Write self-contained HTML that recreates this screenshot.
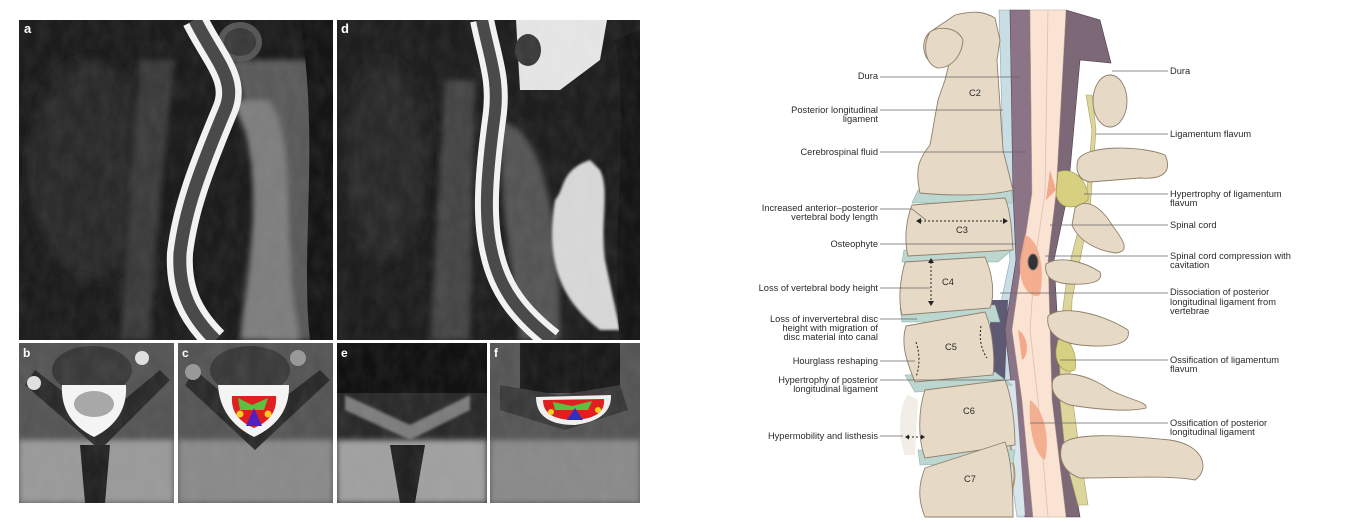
<!DOCTYPE html>
<html><head><meta charset="utf-8"><style>
html,body{margin:0;padding:0;background:#fff;}
svg{display:block;}
text{font-family:"Liberation Sans",sans-serif;font-size:9.3px;fill:#2a2a2a;}
</style></head><body>
<svg width="1354" height="522" viewBox="0 0 1354 522" xmlns="http://www.w3.org/2000/svg">
<defs>
<filter id="bl" x="-20%" y="-20%" width="140%" height="140%"><feGaussianBlur stdDeviation="3"/></filter>
<filter id="bl1"><feGaussianBlur stdDeviation="1.2"/></filter>
<filter id="bl6" x="-30%" y="-30%" width="160%" height="160%"><feGaussianBlur stdDeviation="6"/></filter>
<filter id="noise" x="0" y="0" width="100%" height="100%">
<feTurbulence type="fractalNoise" baseFrequency="0.08 0.05" numOctaves="3" seed="4"/>
<feColorMatrix type="matrix" values="0 0 0 0 0.5  0 0 0 0 0.5  0 0 0 0 0.5  1.2 0 0 0 -0.35"/>
</filter>
<clipPath id="ca"><rect x="19" y="20" width="314" height="320"/></clipPath>
<clipPath id="cd"><rect x="337" y="20" width="303" height="320"/></clipPath>
<clipPath id="cb"><rect x="19" y="343" width="155" height="160"/></clipPath>
<clipPath id="cc"><rect x="178" y="343" width="155" height="160"/></clipPath>
<clipPath id="ce"><rect x="337" y="343" width="150" height="160"/></clipPath>
<clipPath id="cf"><rect x="490" y="343" width="150" height="160"/></clipPath>
</defs>

<!-- Panel a -->
<g clip-path="url(#ca)">
<rect x="19" y="20" width="314" height="320" fill="#1c1c1c"/>
<ellipse cx="90" cy="170" rx="60" ry="110" fill="#2c2c2c" filter="url(#bl6)"/>
<path d="M140 60 L175 60 L160 200 L150 340 L120 340 L130 200Z" fill="#3a3a3a" filter="url(#bl)"/>
<path d="M230 60 C260 120 250 220 270 340 L333 340 L333 60 Z" fill="#5a5a5a" filter="url(#bl)"/>
<path d="M228 100 C270 150 250 250 240 340 L300 340 C280 250 300 150 270 100Z" fill="#7e7e7e" filter="url(#bl)"/>
<path d="M300 20 L333 20 L333 340 L310 340 C300 250 320 140 300 20Z" fill="#151515"/>
<ellipse cx="240" cy="42" rx="22" ry="20" fill="#555"/>
<ellipse cx="240" cy="42" rx="16" ry="14" fill="#3a3a3a"/>
<rect x="19" y="20" width="314" height="320" filter="url(#noise)" opacity="0.12"/>
<path d="M195 20 C215 60 238 80 225 110 C200 170 185 210 180 253 C178 290 190 315 215 340" fill="none" stroke="#f2f2f2" stroke-width="26"/>
<path d="M195 20 C215 60 238 80 225 110 C200 170 185 210 180 253 C178 290 190 315 215 340" fill="none" stroke="#4a4a4a" stroke-width="13"/>
<text x="24" y="33" style="font-size:13px;font-weight:bold;fill:#fff">a</text>
</g>
<!-- Panel d -->
<g clip-path="url(#cd)">
<rect x="337" y="20" width="303" height="320" fill="#1e1e1e"/>
<ellipse cx="385" cy="160" rx="40" ry="100" fill="#2a2a2a" filter="url(#bl6)"/>
<path d="M445 80 L475 80 L470 340 L430 340Z" fill="#444" filter="url(#bl)"/>
<path d="M500 120 C540 130 560 200 560 340 L520 340 C510 250 500 200 500 120Z" fill="#555" filter="url(#bl)"/>
<path d="M516 20 L607 20 L600 60 L560 90 L520 90Z" fill="#e6e6e6"/>
<ellipse cx="528" cy="50" rx="13" ry="16" fill="#3a3a3a"/>
<path d="M590 160 C560 170 565 190 555 200 C545 260 560 300 600 330 L620 330 L605 260 C600 220 610 190 600 170Z" fill="#d8d8d8" filter="url(#bl1)"/>
<path d="M615 40 L640 30 L640 340 L620 340 C610 250 630 120 615 40Z" fill="#151515"/>
<rect x="337" y="20" width="303" height="320" filter="url(#noise)" opacity="0.12"/>
<path d="M482 20 C490 60 500 80 494 120 C486 180 484 220 492 253 C500 290 520 315 552 340" fill="none" stroke="#f2f2f2" stroke-width="24"/>
<path d="M482 20 C490 60 500 80 494 120 C486 180 484 220 492 253 C500 290 520 315 552 340" fill="none" stroke="#4a4a4a" stroke-width="12"/>
<text x="341" y="33" style="font-size:13px;font-weight:bold;fill:#fff">d</text>
</g>
<!-- Panel b -->
<g clip-path="url(#cb)">
<rect x="19" y="343" width="155" height="160" fill="#555"/>
<rect x="19" y="440" width="155" height="63" fill="#9a9a9a" filter="url(#bl)"/>
<ellipse cx="92" cy="370" rx="40" ry="24" fill="#3a3a3a"/>
<path d="M35 370 L100 420 L160 370 L170 380 L100 450 L25 385Z" fill="#2a2a2a"/>
<path d="M80 445 L110 445 L105 503 L85 503Z" fill="#222"/>
<rect x="19" y="343" width="155" height="160" filter="url(#noise)" opacity="0.12"/>
<path d="M62 385 L126 385 Q128 420 94 437 Q60 420 62 385Z" fill="#f4f4f4"/>
<ellipse cx="94" cy="404" rx="20" ry="13" fill="#a8a8a8"/>
<circle cx="34" cy="383" r="7" fill="#e0e0e0"/><circle cx="142" cy="358" r="7" fill="#e0e0e0"/>
<text x="23" y="357" style="font-size:12px;font-weight:bold;fill:#fff">b</text>
</g>
<!-- Panel c -->
<g clip-path="url(#cc)">
<rect x="178" y="343" width="155" height="160" fill="#555"/>
<rect x="178" y="440" width="155" height="63" fill="#8a8a8a" filter="url(#bl)"/>
<ellipse cx="250" cy="370" rx="40" ry="24" fill="#3a3a3a"/>
<path d="M195 370 L255 420 L320 370 L330 380 L255 450 L185 385Z" fill="#2a2a2a"/>
<rect x="178" y="343" width="155" height="160" filter="url(#noise)" opacity="0.12"/>
<path d="M218 385 L289 385 Q290 420 254 437 Q220 420 218 385Z" fill="#f4f4f4"/>
<path d="M232 396 L276 396 Q278 418 254 428 Q230 418 232 396Z" fill="#e02020"/>
<path d="M238 398 L252 405 L268 398 L264 410 L252 410 L240 410Z" fill="#5cc040"/>
<path d="M254 408 L262 426 L246 426Z" fill="#5020c0"/>
<circle cx="240" cy="414" r="3.5" fill="#f0d020"/><circle cx="268" cy="414" r="3.5" fill="#f0d020"/>
<circle cx="193" cy="372" r="8" fill="#999"/><circle cx="298" cy="358" r="8" fill="#999"/>
<text x="182" y="357" style="font-size:12px;font-weight:bold;fill:#fff">c</text>
</g>
<!-- Panel e -->
<g clip-path="url(#ce)">
<rect x="337" y="343" width="150" height="160" fill="#2a2a2a"/>
<rect x="337" y="343" width="150" height="50" fill="#111"/>
<rect x="337" y="440" width="150" height="63" fill="#a0a0a0" filter="url(#bl)"/>
<path d="M345 395 L410 425 L470 395 L470 410 L410 440 L345 410Z" fill="#7c7c7c" filter="url(#bl1)"/>
<path d="M390 445 L425 445 L415 503 L400 503Z" fill="#222"/>
<rect x="337" y="343" width="150" height="160" filter="url(#noise)" opacity="0.12"/>
<text x="341" y="357" style="font-size:12px;font-weight:bold;fill:#fff">e</text>
</g>
<!-- Panel f -->
<g clip-path="url(#cf)">
<rect x="490" y="343" width="150" height="160" fill="#555"/>
<rect x="520" y="343" width="100" height="50" fill="#1a1a1a"/>
<rect x="490" y="440" width="150" height="63" fill="#8a8a8a" filter="url(#bl)"/>
<path d="M500 385 L560 395 L620 385 L628 410 L565 430 L500 410Z" fill="#3a3a3a"/>
<rect x="490" y="343" width="150" height="160" filter="url(#noise)" opacity="0.12"/>
<path d="M536 397 L611 395 Q612 420 575 425 Q536 425 536 397Z" fill="#f0f0f0"/>
<path d="M543 400 L604 399 Q606 418 575 420 Q543 420 543 400Z" fill="#e02020"/>
<path d="M553 402 L572 406 L592 401 L588 410 L555 410Z" fill="#5cc040"/>
<path d="M575 408 L583 420 L567 420Z" fill="#3030c0"/>
<circle cx="551" cy="412" r="3" fill="#f0d020"/><circle cx="598" cy="410" r="3" fill="#f0d020"/>
<text x="494" y="357" style="font-size:12px;font-weight:bold;fill:#fff">f</text>
</g>

<!-- ===== Right illustration ===== -->
<path d="M999 10 L1004 193 L1010 260 L995 330 L1000 400 L1017 517 L1025 517 L1013 400 L1005 330 L1016 260 L1013 193 L1010 10Z" fill="#c9dde5" stroke="#8fa9b5" stroke-width="0.6"/>
<path d="M990 300 L1008 300 L1005 380 L990 380Z" fill="#5f5a73"/>
<path d="M1010 10 L1013 193 L1016 260 L1005 330 L1013 400 L1025 517 L1033 517 L1022 400 L1012 330 L1022 260 L1032 193 L1030 10Z" fill="#8a7486" stroke="#5a4a5c" stroke-width="0.6"/>
<path d="M1066 10 L1056 193 L1048 260 L1050 330 L1052 400 L1066 517 L1080 517 L1060 400 L1058 330 L1054 260 L1068 193 L1080 60 L1111 63 L1100 20Z" fill="#7d6878" stroke="#4d3d4d" stroke-width="0.6"/>
<path d="M1030 10 L1032 193 L1022 260 L1012 330 L1022 400 L1033 517 L1066 517 L1052 400 L1050 330 L1048 260 L1056 193 L1066 10Z" fill="#fbe3d3" stroke="#c8a898" stroke-width="0.6"/>
<path d="M1048 10 L1045 193 L1035 260 L1030 330 L1038 400 L1048 517" fill="none" stroke="#d9c0b0" stroke-width="0.8"/>
<path d="M1025 235 C1040 240 1045 270 1040 295 C1030 300 1018 285 1020 260Z" fill="#f3a88a" opacity="0.9"/>
<path d="M1050 170 L1056 190 L1046 200Z" fill="#f3a88a"/>
<path d="M1030 400 C1045 410 1050 440 1045 460 C1035 455 1028 430 1030 400Z" fill="#f3a88a" opacity="0.9"/>
<path d="M1018 330 C1028 335 1030 355 1022 360Z" fill="#f3a88a"/>
<ellipse cx="1033" cy="262" rx="5" ry="8" fill="#333" stroke="#777" stroke-width="1"/>
<path d="M1003 380 L1015 380 L1025 515 L1017 515Z" fill="#d8e6ec"/>
<path d="M1008 420 q5 10 0 20 q6 10 2 25 M1012 460 q5 15 0 30" stroke="#b29a70" stroke-width="2" fill="none"/>
<path d="M1086 95 L1092 130 L1086 200 L1068 270 L1060 330 L1060 400 L1066 460 L1078 505 L1088 505 L1078 440 L1070 380 L1072 300 L1090 210 L1096 130 L1092 95Z" fill="#dcd69c" stroke="#a9a060" stroke-width="0.6"/>
<path d="M1058 172 C1075 165 1090 185 1088 200 C1075 210 1060 210 1056 195Z" fill="#d6d080" stroke="#a09a50" stroke-width="0.6"/>
<path d="M1058 340 C1070 335 1078 355 1075 370 C1065 375 1055 365 1056 350Z" fill="#d6d080" stroke="#a09a50" stroke-width="0.6"/>
<g fill="#e6dac6" stroke="#8f7f6a" stroke-width="0.9">
<ellipse cx="1110" cy="101" rx="17" ry="26"/>
<path d="M1078 160 C1085 145 1140 145 1165 155 C1172 170 1165 180 1140 178 L1090 182 C1078 180 1075 170 1078 160Z"/>
<path d="M1075 208 C1085 198 1100 205 1112 225 C1125 242 1130 252 1115 253 C1095 250 1078 240 1072 225Z"/>
<path d="M1046 264 C1060 255 1085 262 1100 272 C1104 282 1090 285 1070 284 C1050 283 1044 275 1046 264Z"/>
<path d="M1048 316 C1060 305 1100 312 1128 330 C1132 345 1110 348 1080 345 C1055 342 1046 330 1048 316Z"/>
<path d="M1053 380 C1060 368 1090 375 1110 390 C1130 400 1148 402 1146 408 C1130 412 1100 410 1070 405 C1055 400 1050 390 1053 380Z"/>
<path d="M1062 445 C1070 432 1120 435 1170 440 C1205 445 1210 470 1195 480 C1170 475 1120 478 1080 478 C1063 472 1058 458 1062 445Z"/>
</g>
<g fill="#bcd6d0" stroke="#8fb0aa" stroke-width="0.6">
<path d="M918 190 L1012 188 L1012 203 L912 203Z"/>
<path d="M904 250 L1012 250 L998 262 L902 262Z"/>
<path d="M900 308 L995 305 L1000 322 L902 322Z"/>
<path d="M905 375 L995 372 L1012 385 L915 392Z"/>
<path d="M918 450 L1015 450 L1013 463 L920 465Z"/>
</g>
<g fill="#e6dac6" stroke="#8f7f6a" stroke-width="0.9">
<path d="M955 15 C975 10 985 12 995 18 L1000 40 L997 60 L1003 150 L1013 190 C990 196 950 196 920 193 C915 170 918 160 930 145 L938 100 L945 80 L950 60 L935 65 C922 60 920 40 930 32Z"/>
<path d="M930 32 C940 25 958 28 963 40 C962 55 952 68 938 68 C925 65 922 45 930 32Z"/>
<path d="M912 205 L1005 198 C1012 215 1012 240 1013 250 L908 256 C904 240 906 220 912 205Z"/>
<path d="M905 262 L985 257 C993 275 995 295 990 308 L902 315 C898 300 900 280 905 262Z"/>
<path d="M906 326 L985 312 C993 330 995 360 993 375 L915 382 C908 365 900 345 906 326Z"/>
<path d="M925 390 L1005 380 C1013 400 1015 430 1015 445 L925 458 C918 440 918 410 925 390Z"/>
<path d="M925 468 L1005 442 C1012 460 1013 495 1013 517 L925 517 C918 500 918 485 925 468Z"/>
</g>
<path d="M908 395 C898 405 898 440 905 455 L915 455 L918 400Z" fill="#efe9e0" opacity="0.8"/>
<g style="font-size:9px" text-anchor="middle">
<text x="975" y="96">C2</text><text x="962" y="233">C3</text><text x="948" y="285">C4</text><text x="951" y="350">C5</text><text x="969" y="414">C6</text><text x="970" y="482">C7</text>
</g>
<g stroke="#222" stroke-width="1" stroke-dasharray="2,2" fill="none">
<line x1="920" y1="221" x2="1004" y2="221"/>
<line x1="931" y1="262" x2="931" y2="303"/>
<path d="M916 342 Q922 360 916 377"/>
<path d="M981 326 Q978 345 987 358"/>
<line x1="908" y1="437" x2="922" y2="437"/>
</g>
<g fill="#222">
<path d="M916 221 l5 -3 v6z"/><path d="M1008 221 l-5 -3 v6z"/>
<path d="M931 258 l-3 5 h6z"/><path d="M931 306 l-3 -5 h6z"/>
<path d="M905 437 l4 -2.5 v5z"/><path d="M925 437 l-4 -2.5 v5z"/>
</g>
<g stroke="#666" stroke-width="0.7" fill="none">
<line x1="880" y1="77" x2="1020" y2="77"/>
<line x1="880" y1="110" x2="1003" y2="110"/>
<line x1="880" y1="152" x2="1027" y2="152"/>
<polyline points="880,209 912,209 926,220"/>
<line x1="880" y1="244" x2="1015" y2="244"/>
<line x1="880" y1="288" x2="930" y2="288"/>
<line x1="880" y1="319" x2="917" y2="319"/>
<line x1="880" y1="361" x2="915" y2="361"/>
<line x1="880" y1="380" x2="1015" y2="380"/>
<line x1="880" y1="436" x2="903" y2="436"/>
<line x1="1112" y1="71" x2="1168" y2="71"/>
<line x1="1096" y1="134" x2="1168" y2="134"/>
<line x1="1084" y1="194" x2="1168" y2="194"/>
<line x1="1050" y1="225" x2="1168" y2="225"/>
<line x1="1045" y1="256" x2="1168" y2="256"/>
<line x1="1000" y1="293" x2="1168" y2="293"/>
<line x1="1060" y1="360" x2="1168" y2="360"/>
<line x1="1030" y1="423" x2="1168" y2="423"/>
</g>
<g text-anchor="end">
<text x="878" y="79">Dura</text>
<text x="878" y="113">Posterior longitudinal</text><text x="878" y="122">ligament</text>
<text x="878" y="155">Cerebrospinal fluid</text>
<text x="878" y="211">Increased anterior–posterior</text><text x="878" y="220">vertebral body length</text>
<text x="878" y="247">Osteophyte</text>
<text x="878" y="291">Loss of vertebral body height</text>
<text x="878" y="322">Loss of inververtebral disc</text><text x="878" y="331">height with migration of</text><text x="878" y="340">disc material into canal</text>
<text x="878" y="364">Hourglass reshaping</text>
<text x="878" y="383">Hypertrophy of posterior</text><text x="878" y="392">longitudinal ligament</text>
<text x="878" y="439">Hypermobility and listhesis</text>
</g>
<g>
<text x="1170" y="74">Dura</text>
<text x="1170" y="137">Ligamentum flavum</text>
<text x="1170" y="197">Hypertrophy of ligamentum</text><text x="1170" y="206">flavum</text>
<text x="1170" y="228">Spinal cord</text>
<text x="1170" y="259">Spinal cord compression with</text><text x="1170" y="268">cavitation</text>
<text x="1170" y="295">Dissociation of posterior</text><text x="1170" y="305">longitudinal ligament from</text><text x="1170" y="314">vertebrae</text>
<text x="1170" y="363">Ossification of ligamentum</text><text x="1170" y="372">flavum</text>
<text x="1170" y="426">Ossification of posterior</text><text x="1170" y="435">longitudinal ligament</text>
</g>
</svg>
</body></html>
